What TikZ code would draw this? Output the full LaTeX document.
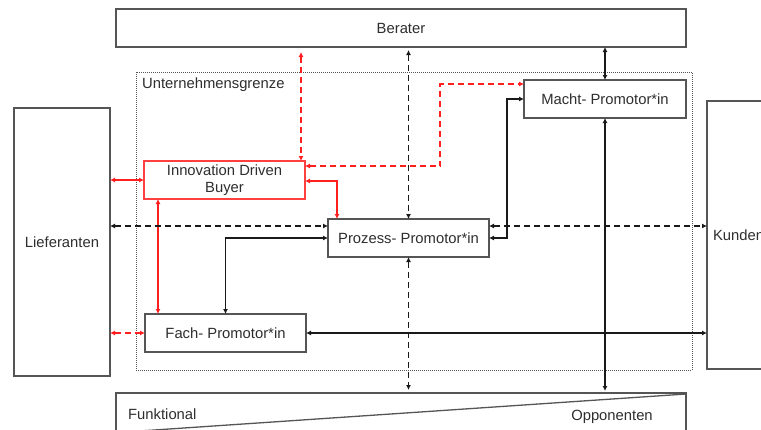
\documentclass[tikz,border=0pt]{standalone}
\usepackage{fontspec}
\setmainfont{Liberation Sans}
\usetikzlibrary{arrows.meta,calc}
\definecolor{boxgray}{HTML}{555555}
\definecolor{txt}{HTML}{2E2E2E}
\definecolor{redline}{HTML}{FF1F1F}
\definecolor{redbox}{HTML}{FF4040}
\begin{document}
\begin{tikzpicture}[x=1pt,y=-1pt,
  font=\fontsize{14.8}{17}\selectfont, text=txt,
  box/.style={draw=boxgray, line width=1.8pt, fill=white, inner sep=0pt, outer sep=0pt, align=center},
  tips/.style={{Latex[length=5pt,width=5pt]}-{Latex[length=5pt,width=5pt]}},
  solidlink/.style={draw=black!90, line width=1.8pt, tips},
  dashlink/.style={solidlink, dash pattern=on 6pt off 4pt},
  redlink/.style={draw=redline, line width=1.8pt, tips},
  reddash/.style={redlink, dash pattern=on 6pt off 4pt},
]
\clip (0,0) rectangle (761,429);
\fill[white] (0,0) rectangle (761,429);

% company boundary
\draw[boxgray, line width=0.9pt, dash pattern=on 1pt off 1pt] (136,72) rectangle (692,370);
\node[anchor=west, inner sep=0pt] (grenze) at (142,85) {Unternehmensgrenze};

% boxes
\node[box, minimum width=570pt, minimum height=38pt] (berater) at (401,28) {Berater};
\node[box, minimum width=96pt, minimum height=268pt] (lief) at (62,242) {Lieferanten};
\node[box, anchor=north west, minimum height=268pt, text width=88pt, inner xsep=6pt, align=left] (kunden) at (707,101) {Kunden};
\node[box, draw=redbox, line width=1.3pt, minimum width=161pt, minimum height=38pt] (idb) at (224.5,180) {Innovation Driven\\Buyer};
\node[box, minimum width=161pt, minimum height=38pt] (prozess) at (408.5,238) {Prozess- Promotor*in};
\node[box, minimum width=162pt, minimum height=38pt] (macht) at (605,99) {Macht- Promotor*in};
\node[box, minimum width=161pt, minimum height=38pt] (fach) at (225.5,333) {Fach- Promotor*in};

% bottom scale: functional to opponents
\node[box, anchor=north west, minimum width=570pt, minimum height=60pt] (base) at (116,393) {};
\draw[boxgray, line width=1.3pt] ($(base.north west)+(0,39.6)$) -- ($(base.north east)+(0,1)$);
\node[anchor=west, inner sep=0pt] (funk) at (128,414) {Funktional};
\node[inner sep=0pt] (opp) at (612,417) {Opponenten};

% helper points for bends
\coordinate (rdx) at (301,0);
\coordinate (bendx) at (440,0);
\coordinate (r1) at ($(idb.east)+(0,-14)$);
\coordinate (r2) at ($(macht.west)+(0,-15)$);
\coordinate (ie) at ($(idb.east)+(0,1)$);
\coordinate (pn) at ($(prozess.north west)+(9,0)$);
\coordinate (ib) at ($(idb.south west)+(14,0)$);
\coordinate (pw) at ($(prozess.west)+(0,-12)$);
\coordinate (pe) at ($(prozess.east)+(0,-12)$);

% red links
\draw[reddash, shorten <=5pt] (berater.south -| rdx) -- (idb.north -| rdx);
\draw[reddash] (r1) -- (r1 -| bendx) -- (r2 -| bendx) -- (r2);
\draw[redlink] (ie) -| (pn);
\draw[redlink] (idb.west -| lief.east) -- (idb.west);
\draw[redlink] (ib) -- (ib |- fach.north);
\draw[reddash] (fach.west -| lief.east) -- (fach.west);

% black links
\draw[dashlink, shorten <=3pt] (berater.south -| prozess.north) -- (prozess.north);
\draw[dashlink, shorten >=3pt] (prozess.south) -- (prozess.south |- base.north);
\draw[dashlink] (pw -| lief.east) -- (pw);
\draw[dashlink] (pe) -- (pe -| kunden.west);
\draw[solidlink] (berater.south -| macht.north) -- (macht.north);
\draw[solidlink, shorten >=2pt] (macht.south) -- (macht.south |- base.north);
\draw[solidlink] (fach.north) |- (prozess.west);
\draw[solidlink] (prozess.east) -- ++(18,0) |- (macht.west);
\draw[solidlink] (fach.east) -- (fach.east -| kunden.west);
\end{tikzpicture}
\end{document}
